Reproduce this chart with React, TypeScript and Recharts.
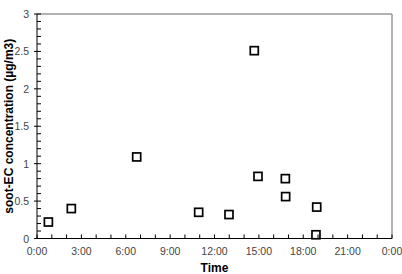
import { ScatterChart, Scatter, XAxis, YAxis, ReferenceLine } from "recharts";

// hours since midnight
const sampleHours = [0.77, 2.32, 6.74, 10.93, 12.98, 14.69, 14.94, 16.79, 16.81, 18.86, 18.91];
const sootEc = [0.22, 0.4, 1.09, 0.35, 0.32, 2.51, 0.83, 0.8, 0.56, 0.05, 0.42];

const hourTicks = [0, 1, 2, 3, 4, 5, 6, 7, 8, 9, 10, 11, 12, 13, 14, 15, 16, 17, 18, 19, 20, 21, 22, 23, 24];
const concTicks = [
  0, 0.1, 0.2, 0.3, 0.4, 0.5, 0.6, 0.7, 0.8, 0.9, 1, 1.1, 1.2, 1.3, 1.4, 1.5, 1.6, 1.7, 1.8, 1.9, 2,
  2.1, 2.2, 2.3, 2.4, 2.5, 2.6, 2.7, 2.8, 2.9, 3,
];

const points = sampleHours.map((h, i) => ({ h, v: sootEc[i] }));

const FONT = "'Liberation Sans', Arial, sans-serif";

const isMajorY = (v: number) => Math.abs(v * 2 - Math.round(v * 2)) < 1e-6;

function YTick({ x, y, payload }: any) {
  const v = payload.value as number;
  const major = isMajorY(v);
  return (
    <g>
      <line x1={major ? x - 3 : x} x2={x + 4} y1={y} y2={y} stroke="#000" />
      {major && (
        <text x={x - 8} y={y} textAnchor="end" dominantBaseline="central" fontSize={10.5} fill="#444" fontFamily={FONT}>
          {String(v)}
        </text>
      )}
    </g>
  );
}

function XTick({ x, y, payload }: any) {
  const h = payload.value as number;
  const major = h % 3 === 0;
  return (
    <g>
      <line x1={x} x2={x} y1={y - 4} y2={y} stroke="#000" />
      {major && (
        <text x={x} y={y + 12} textAnchor="middle" dominantBaseline="central" fontSize={10.5} fill="#444" fontFamily={FONT}>
          {`${h % 24}:00`}
        </text>
      )}
    </g>
  );
}

function YLabel({ viewBox }: any) {
  const cy = viewBox.y + viewBox.height / 2;
  return (
    <text
      x={9}
      y={cy}
      transform={`rotate(-90 9 ${cy})`}
      textAnchor="middle"
      dominantBaseline="central"
      fontSize={12}
      fontWeight="bold"
      fill="#000"
      fontFamily={FONT}
    >
      soot-EC concentration (µg/m3)
    </text>
  );
}

function Box({ cx, cy }: any) {
  return <rect x={cx - 4} y={cy - 4} width={8} height={8} fill="#fff" stroke="#000" strokeWidth={1.7} />;
}

export default function App() {
  return (
    <div style={{ position: "absolute", left: 0, top: 0, background: "#fff" }}>
      <ScatterChart width={402} height={274} margin={{ top: 14, right: 10, bottom: 0, left: 0 }}>
        <XAxis
          type="number"
          dataKey="h"
          domain={[0, 24]}
          ticks={hourTicks}
          interval={0}
          tick={<XTick />}
          tickLine={false}
          tickSize={0}
          tickMargin={0}
          axisLine={{ stroke: "#000" }}
          height={35.5}
          label={{ value: "Time", position: "insideBottom", offset: 2, fontSize: 12, fontWeight: "bold", fill: "#000", fontFamily: FONT }}
        />
        <YAxis
          type="number"
          dataKey="v"
          domain={[0, 3]}
          ticks={concTicks}
          interval={0}
          tick={<YTick />}
          tickLine={false}
          tickSize={0}
          tickMargin={0}
          axisLine={{ stroke: "#000" }}
          width={37}
          label={<YLabel />}
        />
        <ReferenceLine y={3} stroke="#999" strokeWidth={1.5} ifOverflow="visible" />
        <ReferenceLine x={24} stroke="#999" strokeWidth={1.5} ifOverflow="visible" />
        <Scatter data={points} shape={<Box />} isAnimationActive={false} />
      </ScatterChart>
    </div>
  );
}
